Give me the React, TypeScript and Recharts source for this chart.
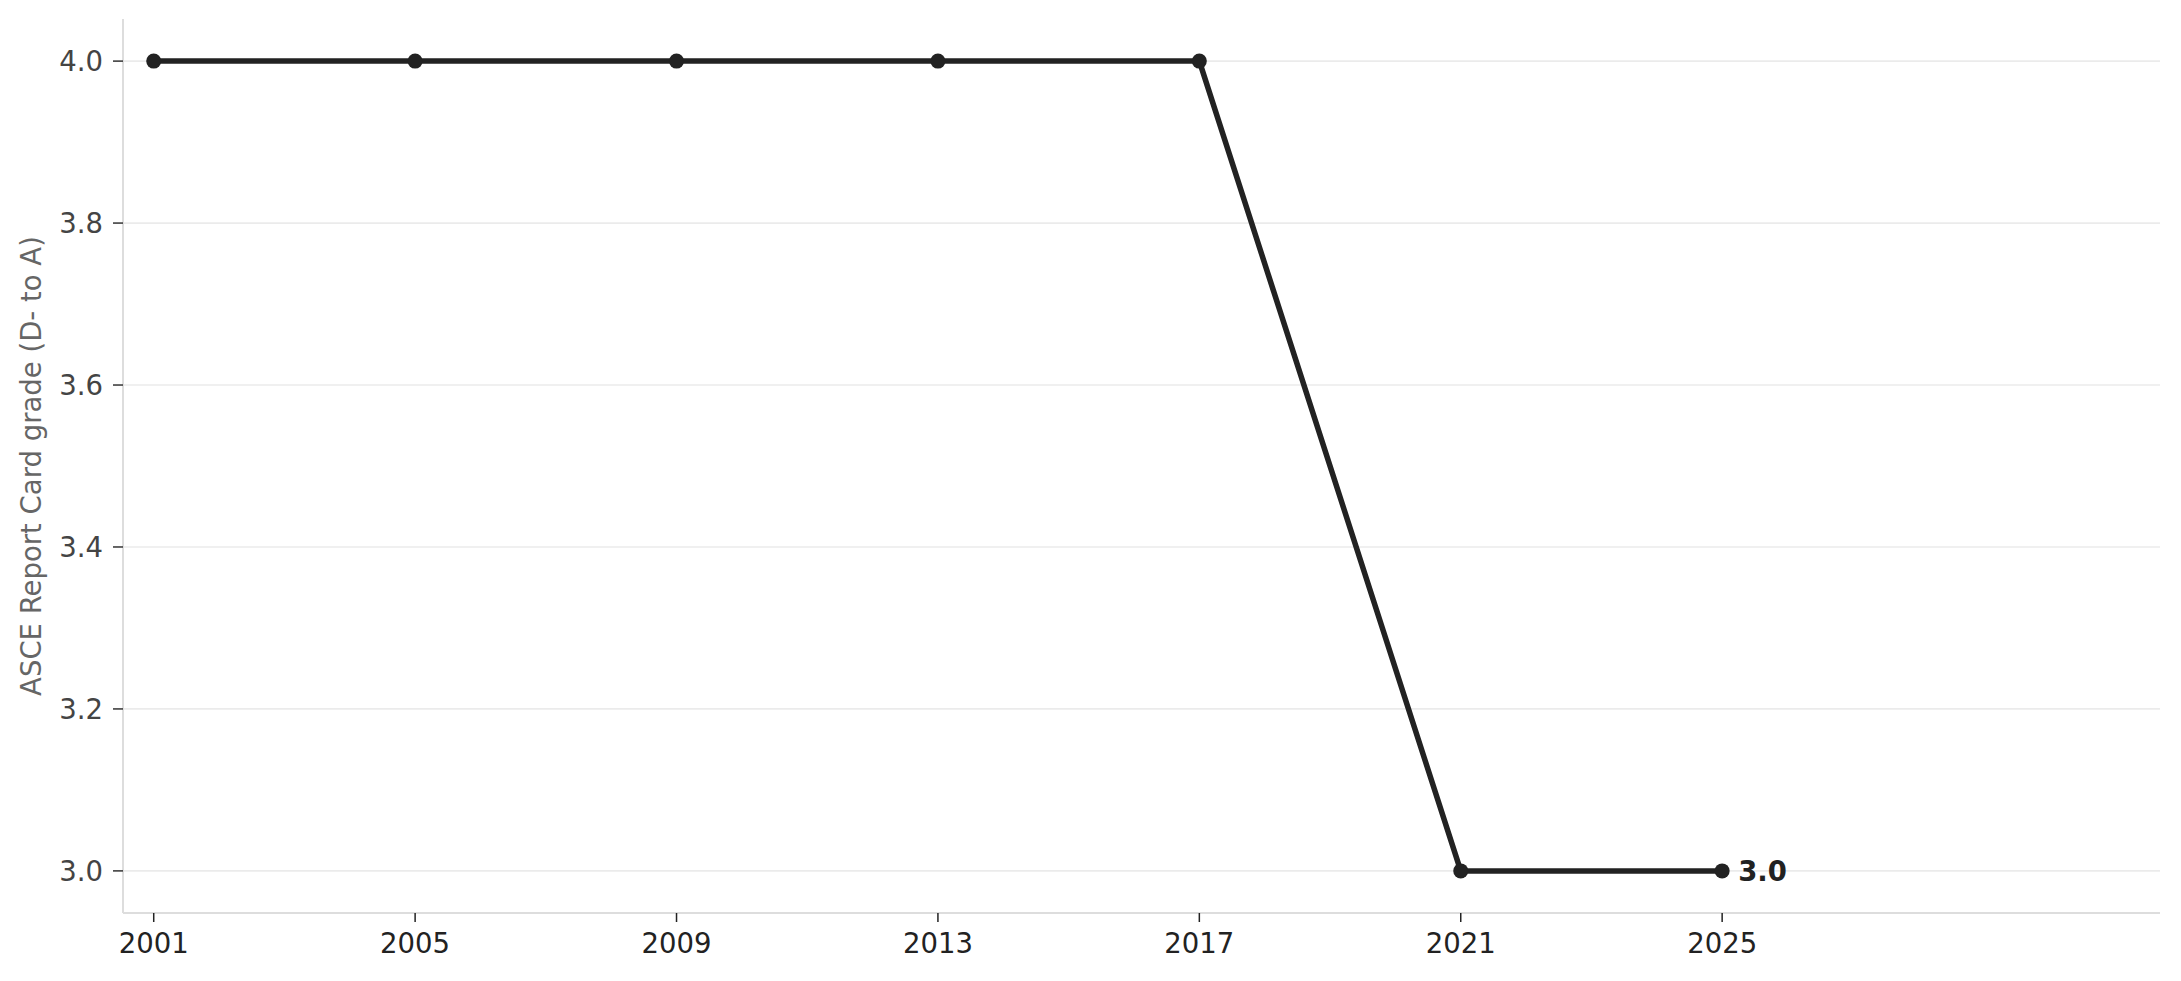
import { LineChart, Line, XAxis, YAxis, CartesianGrid, LabelList, Label } from "recharts"

const years = [2001, 2005, 2009, 2013, 2017, 2021, 2025]
const grades = [4.0, 4.0, 4.0, 4.0, 4.0, 3.0, 3.0]
const yTicks = [3.0, 3.2, 3.4, 3.6, 3.8, 4.0]

const data = years.map((year, i) => ({ year, grade: grades[i] }))

const FONT = "'DejaVu Sans', sans-serif"

function EndLabel(props: any) {
  const { x, y, index, value } = props
  if (index !== data.length - 1) return null
  return (
    <text
      x={x + 16}
      y={y}
      dominantBaseline="central"
      fontFamily={FONT}
      fontSize={27.5}
      fontWeight="bold"
      fill="#222"
    >
      {Number(value).toFixed(1)}
    </text>
  )
}

export default function App() {
  return (
    <div style={{ position: "absolute", left: 0, top: 0, background: "#fff" }}>
      <LineChart
        width={2181}
        height={981}
        data={data}
        margin={{ top: 19, right: 21, bottom: 0, left: 0 }}
      >
        <CartesianGrid
          vertical={false}
          horizontalValues={yTicks}
          stroke="#ebebeb"
          strokeWidth={1.7}
        />
        <XAxis
          dataKey="year"
          type="number"
          domain={[2000.53, 2031.7]}
          ticks={years}
          height={68}
          axisLine={{ stroke: "#dddddd", strokeWidth: 2 }}
          tickLine={{ stroke: "#222", strokeWidth: 1.5 }}
          tickSize={9}
          tickMargin={11}
          tick={{ fill: "#222", fontSize: 27.5, fontFamily: FONT }}
          allowDataOverflow
        />
        <YAxis
          type="number"
          domain={[2.948, 4.052]}
          ticks={yTicks}
          width={123}
          tickFormatter={(v: number) => v.toFixed(1)}
          axisLine={{ stroke: "#dddddd", strokeWidth: 2 }}
          tickLine={{ stroke: "#333", strokeWidth: 1.5 }}
          tickSize={10}
          tickMargin={10}
          tick={{ fill: "#444", fontSize: 27.5, fontFamily: FONT }}
          allowDataOverflow
        >
          <Label
            value="ASCE Report Card grade (D- to A)"
            angle={-90}
            position="insideLeft"
            offset={31}
            style={{ textAnchor: "middle", fill: "#666", fontSize: 27.5, fontFamily: FONT }}
          />
        </YAxis>
        <Line
          dataKey="grade"
          stroke="#222"
          strokeWidth={5.5}
          dot={{ r: 7.5, fill: "#222", stroke: "#222", strokeWidth: 0 }}
          activeDot={false}
          isAnimationActive={false}
        >
          <LabelList dataKey="grade" content={EndLabel} />
        </Line>
      </LineChart>
    </div>
  )
}
